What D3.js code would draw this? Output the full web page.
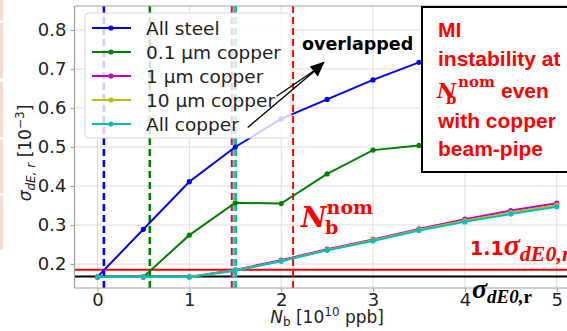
<!DOCTYPE html>
<html>
<head>
<meta charset="utf-8">
<script src="https://cdn.jsdelivr.net/npm/d3@7"></script>
<style>
  html, body { margin: 0; padding: 0; background: #fff; overflow: hidden; }
  svg { display: block; }
  text { font-family: "DejaVu Sans", sans-serif; }
</style>
</head>
<body>
<div id="chart"></div>
<script>
// bunch intensity Nb [1e10 ppb]
const nb = [0, 0.5, 1, 1.5, 2, 2.5, 3, 3.5, 4, 4.5, 5]

// sigma_dE,r [1e-3] per wall material
const allSteel = [0.167, 0.289, 0.411, 0.500, 0.572, 0.622, 0.672, 0.717, 0.755]
const copper01 = [0.167, 0.167, 0.274, 0.357, 0.355, 0.431, 0.492, 0.504, 0.520]
const copper1 = [0.167, 0.167, 0.167, 0.185, 0.210, 0.238, 0.263, 0.290, 0.315, 0.337, 0.356]
const copper10 = [0.167, 0.167, 0.167, 0.184, 0.208, 0.236, 0.261, 0.288, 0.311, 0.332, 0.351]
const allCopper = [0.167, 0.167, 0.167, 0.183, 0.207, 0.235, 0.259, 0.286, 0.308, 0.328, 0.347]

const seriesNames = ['All steel', '0.1 \u03bcm copper', '1 \u03bcm copper', '10 \u03bcm copper', 'All copper']
const seriesColors = ['#0000ff', '#008000', '#bf00bf', '#bfbf00', '#00bfbf']
const seriesValues = [allSteel, copper01, copper1, copper10, allCopper]

// instability thresholds (vertical dashed lines), same order as series
const thresholds = [0.07, 0.57, 1.465, 1.485, 1.505]
const nbNominal = 2.13

const sigma0 = 0.168
const sigma0x11 = 0.185

const xTicks = [0, 1, 2, 3, 4, 5]
const yTicks = [0.2, 0.3, 0.4, 0.5, 0.6, 0.7, 0.8]

const width = 567, height = 331
const plot = { left: 74.5, right: 579.7, top: 6, bottom: 288 }

const svg = d3.select('#chart').append('svg')
    .attr('width', width)
    .attr('height', height)

// pinkish slide remnants on the left edge
const strips = [[0, 20], [23, 78], [82, 137], [140, 193], [196, 250]]
svg.selectAll('rect.strip').data(strips).enter().append('rect')
    .attr('x', 0).attr('width', 3)
    .attr('y', d => d[0]).attr('height', d => d[1] - d[0])
    .attr('fill', '#f7dcd3')

const x = d3.scaleLinear().domain([-0.25, 5.25]).range([plot.left, plot.right])
const y = d3.scaleLinear().domain([0.1385, 0.8615]).range([plot.bottom, plot.top])

svg.append('defs').append('clipPath').attr('id', 'clip')
    .append('rect')
    .attr('x', plot.left).attr('y', plot.top)
    .attr('width', plot.right - plot.left).attr('height', plot.bottom - plot.top)

// grid
const grid = svg.append('g').attr('stroke', '#dcdcdc').attr('stroke-width', 1)
grid.selectAll('line.gx').data(xTicks).enter().append('line')
    .attr('x1', d => x(d)).attr('x2', d => x(d))
    .attr('y1', plot.top).attr('y2', plot.bottom)
grid.selectAll('line.gy').data(yTicks).enter().append('line')
    .attr('x1', plot.left).attr('x2', plot.right)
    .attr('y1', d => y(d)).attr('y2', d => y(d))

const g = svg.append('g').attr('clip-path', 'url(#clip)')

// reference levels
g.append('line')
    .attr('x1', plot.left).attr('x2', plot.right)
    .attr('y1', y(sigma0)).attr('y2', y(sigma0))
    .attr('stroke', '#000').attr('stroke-width', 2)
g.append('line')
    .attr('x1', plot.left).attr('x2', plot.right)
    .attr('y1', y(sigma0x11)).attr('y2', y(sigma0x11))
    .attr('stroke', '#ff0000').attr('stroke-width', 2)

// threshold lines
thresholds.forEach((t, i) => {
    g.append('line')
        .attr('x1', x(t)).attr('x2', x(t))
        .attr('y1', plot.top).attr('y2', plot.bottom)
        .attr('stroke', seriesColors[i]).attr('stroke-width', 2.6)
        .attr('stroke-dasharray', '7,4')
})
g.append('line')
    .attr('x1', x(nbNominal)).attr('x2', x(nbNominal))
    .attr('y1', plot.top).attr('y2', plot.bottom)
    .attr('stroke', '#ff0000').attr('stroke-width', 2)
    .attr('stroke-dasharray', '7,4')

// series
const line = d3.line().x((d, i) => x(nb[i])).y(d => y(d))
seriesValues.forEach((vals, i) => {
    g.append('path')
        .datum(vals)
        .attr('d', line)
        .attr('fill', 'none')
        .attr('stroke', seriesColors[i])
        .attr('stroke-width', 2)
    g.selectAll('circle.s' + i)
        .data(vals)
        .enter()
        .append('circle')
        .attr('cx', (d, j) => x(nb[j]))
        .attr('cy', d => y(d))
        .attr('r', 2.6)
        .attr('fill', seriesColors[i])
})

// frame + ticks
const frame = svg.append('g').attr('stroke', '#a0a0a0').attr('stroke-width', 1.2)
frame.append('line').attr('x1', plot.left).attr('x2', plot.left).attr('y1', plot.top).attr('y2', plot.bottom)
frame.append('line').attr('x1', plot.left).attr('x2', plot.right).attr('y1', plot.bottom).attr('y2', plot.bottom)
frame.append('line').attr('x1', plot.left).attr('x2', plot.right).attr('y1', plot.top).attr('y2', plot.top)

const xAxis = svg.append('g')
    .attr('transform', `translate(0,${plot.bottom})`)
    .call(d3.axisBottom(x).tickValues(xTicks).tickSize(4).tickPadding(1).tickFormat(d3.format('d')))
const yAxis = svg.append('g')
    .attr('transform', `translate(${plot.left},0)`)
    .call(d3.axisLeft(y).tickValues(yTicks).tickSize(4).tickPadding(4).tickFormat(d3.format('.1f')))
;[xAxis, yAxis].forEach(ax => {
    ax.select('.domain').remove()
    ax.selectAll('.tick line').attr('stroke', '#a0a0a0')
    ax.selectAll('.tick text')
        .attr('fill', '#222')
        .style('font-family', '"DejaVu Sans", sans-serif')
        .style('font-size', '18px')
})

// axis labels
const xl = svg.append('text')
    .attr('x', (plot.left + plot.right) / 2)
    .attr('y', 323)
    .attr('text-anchor', 'middle')
    .attr('fill', '#222')
    .style('font-size', '17px')
xl.append('tspan').text('N').style('font-style', 'italic')
xl.append('tspan').text('b').attr('dy', 3).style('font-size', '12px')
xl.append('tspan').text(' [10').attr('dy', -3)
xl.append('tspan').text('10').attr('dy', -7).style('font-size', '12px')
xl.append('tspan').text(' ppb]').attr('dy', 7)

const yl = svg.append('text')
    .attr('transform', 'translate(31,153) rotate(-90)')
    .attr('text-anchor', 'middle')
    .attr('fill', '#222')
    .style('font-size', '17px')
yl.append('tspan').text('\u03c3').style('font-style', 'italic')
yl.append('tspan').text('dE, r').attr('dy', 4).style('font-size', '12px').style('font-style', 'italic')
yl.append('tspan').text(' [10').attr('dy', -4)
yl.append('tspan').text('\u22123').attr('dy', -7).style('font-size', '12px')
yl.append('tspan').text(']').attr('dy', 7)

// legend
const legend = svg.append('g')
legend.append('rect')
    .attr('x', 85).attr('y', 13)
    .attr('width', 206).attr('height', 125)
    .attr('rx', 4)
    .attr('fill', 'rgba(255,255,255,0.8)')
    .attr('stroke', '#d8d8d8')
seriesNames.forEach((name, i) => {
    const ly = 28 + i * 24
    legend.append('line')
        .attr('x1', 92).attr('x2', 131)
        .attr('y1', ly).attr('y2', ly)
        .attr('stroke', seriesColors[i]).attr('stroke-width', 2)
    legend.append('circle')
        .attr('cx', 111).attr('cy', ly).attr('r', 2.6)
        .attr('fill', seriesColors[i])
    legend.append('text')
        .attr('x', 146).attr('y', ly + 6.5)
        .attr('fill', '#222')
        .style('font-size', '18.5px')
        .text(name)
})

// annotations
svg.append('text')
    .attr('x', 302).attr('y', 50)
    .attr('fill', '#000')
    .style('font-family', '"DejaVu Sans", sans-serif')
    .style('font-weight', 'bold')
    .style('font-size', '17.5px')
    .text('overlapped')

const tip = [2.475, 0.719]
const arrowFrom = [[1.95, 0.63], [1.635, 0.55]]
arrowFrom.forEach(p => {
    svg.append('line')
        .attr('x1', x(p[0])).attr('y1', y(p[1]))
        .attr('x2', x(tip[0]) - 6).attr('y2', y(tip[1]) + 6)
        .attr('stroke', '#000').attr('stroke-width', 1.3)
})
svg.append('path')
    .attr('d', `M${x(tip[0])},${y(tip[1])} L${x(tip[0]) - 15},${y(tip[1]) + 5} L${x(tip[0]) - 7},${y(tip[1]) + 15} Z`)
    .attr('fill', '#000')

const nn = svg.append('text')
    .attr('x', 301).attr('y', 227)
    .attr('fill', '#ff0000')
    .style('font-family', '"DejaVu Serif", serif')
    .style('font-weight', 'bold')
nn.append('tspan').text('N').style('font-style', 'italic').style('font-size', '28px')
nn.append('tspan').text('nom').attr('dy', -13).style('font-size', '19px')
nn.append('tspan').text('b').attr('x', 325).attr('dy', 20).style('font-size', '19px')

const s11 = svg.append('text')
    .attr('x', 470).attr('y', 255)
    .attr('fill', '#ff0000')
    .style('font-weight', 'bold')
s11.append('tspan').text('1.1').style('font-family', '"DejaVu Sans", sans-serif').style('font-size', '19px')
s11.append('tspan').text('\u03c3').style('font-family', '"Liberation Serif", serif').style('font-style', 'italic').style('font-size', '30px')
s11.append('tspan').text('dE0,r').attr('dy', 6).style('font-family', '"Liberation Serif", serif').style('font-style', 'italic').style('font-size', '22px')

const s0 = svg.append('text')
    .attr('x', 472).attr('y', 298)
    .attr('fill', '#000')
    .style('font-family', '"Liberation Serif", serif')
    .style('font-weight', 'bold')
s0.append('tspan').text('\u03c3').style('font-style', 'italic').style('font-size', '28px')
s0.append('tspan').text('dE0,').attr('dy', 5).style('font-style', 'italic').style('font-size', '19px')
s0.append('tspan').text('r').style('font-size', '19px')

// red note box
const box = svg.append('g')
box.append('rect')
    .attr('x', 422).attr('y', 7)
    .attr('width', 170).attr('height', 165)
    .attr('fill', '#fff')
    .attr('stroke', '#000').attr('stroke-width', 2)
const note = [['MI', 37], ['instability at', 66], ['with copper', 128], ['beam-pipe', 156]]
note.forEach(n => {
    box.append('text')
        .attr('x', 438).attr('y', n[1])
        .attr('fill', '#ff0000')
        .style('font-family', '"Liberation Sans", sans-serif')
        .style('font-weight', 'bold')
        .style('font-size', '21px')
        .text(n[0])
})
const nl = box.append('text')
    .attr('x', 437).attr('y', 98)
    .attr('fill', '#ff0000')
    .style('font-weight', 'bold')
nl.append('tspan').text('N').style('font-family', '"DejaVu Serif", serif').style('font-style', 'italic').style('font-size', '21px')
nl.append('tspan').text('nom').attr('x', 458).attr('dy', -11).style('font-family', '"DejaVu Serif", serif').style('font-size', '15px')
nl.append('tspan').text('b').attr('x', 446).attr('dy', 17).style('font-family', '"DejaVu Serif", serif').style('font-size', '15px')
nl.append('tspan').text('even').attr('x', 501).attr('dy', -6).style('font-family', '"Liberation Sans", sans-serif').style('font-size', '21px')
</script>
</body>
</html>
